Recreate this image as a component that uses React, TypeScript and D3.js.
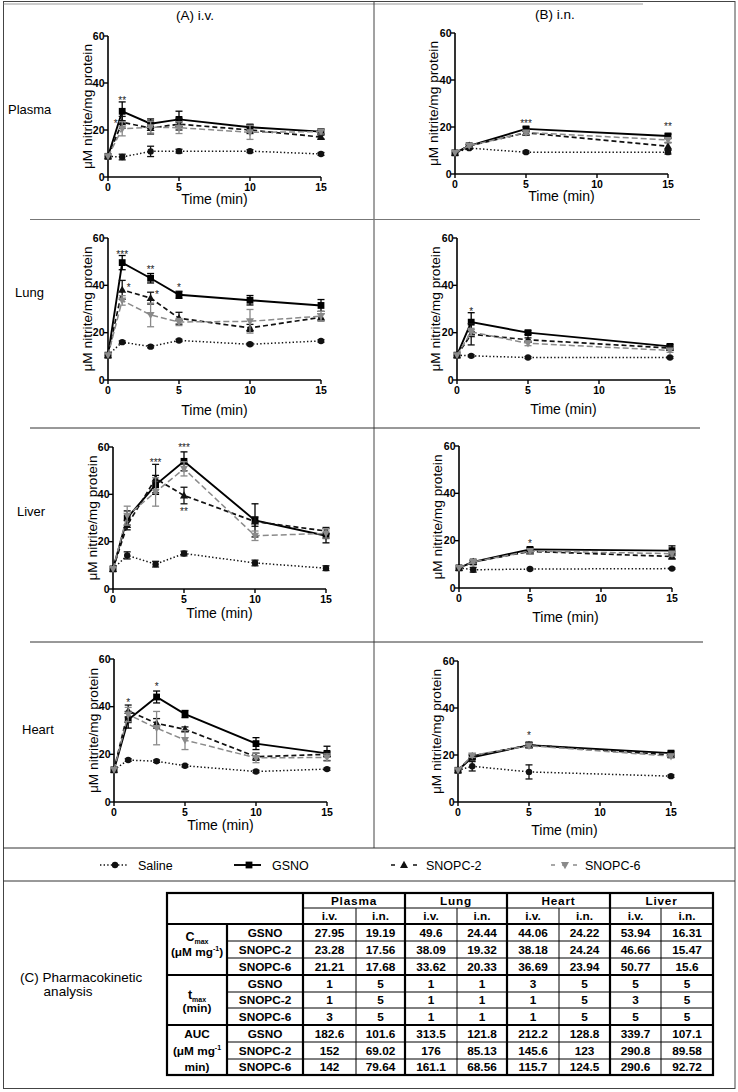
import React from 'react';
import * as d3 from 'd3';

// ---------- DATA ----------
const timesIV = [0, 1, 3, 5, 10, 15];
const timesIN = [0, 1, 5, 15];
const seriesNames = ['Saline', 'GSNO', 'SNOPC-2', 'SNOPC-6'];
const xTicks = [0, 5, 10, 15];
const yTicks = [0, 20, 40, 60];
const organs = ['Plasma', 'Lung', 'Liver', 'Heart'];

// order of series in each panel: Saline, GSNO, SNOPC-2, SNOPC-6
const plasmaIV = [
  [8.8, 8.5, 10.9, 11, 11, 9.8],
  [8.8, 27.95, 22.7, 24.5, 21.2, 19.3],
  [8.8, 23.28, 20.8, 22.5, 20, 17],
  [8.8, 20.5, 21.21, 21, 19, 19.3],
];
const plasmaIVErr = [
  [0, 1.2, 2.2, 0.8, 0.6, 0.6],
  [0, 4, 2, 3.5, 1.2, 1],
  [0, 2.5, 2.5, 2.5, 1.5, 0.8],
  [0, 3, 2.5, 2.5, 3, 1],
];
const plasmaIN = [
  [9, 11, 9.3, 9.3],
  [9, 12, 19.19, 16.2],
  [9, 12, 17.56, 11.8],
  [9, 12, 17.68, 14.5],
];
const plasmaINErr = [
  [0, 0.5, 0.5, 0.8],
  [0, 0.5, 0.8, 0.8],
  [0, 0.5, 0.8, 1.5],
  [0, 0.5, 0.8, 1],
];
const lungIV = [
  [10.5, 16, 14.1, 16.7, 15.1, 16.5],
  [10.5, 49.6, 43, 36, 33.7, 31.5],
  [10.5, 38.09, 34.6, 26.1, 22, 26.5],
  [10.5, 33.62, 27.5, 24.5, 24.8, 27],
];
const lungIVErr = [
  [0, 0.5, 0.5, 0.5, 0.5, 0.5],
  [0, 3, 2, 1.5, 2, 2.5],
  [0, 4, 2.5, 2.5, 1.5, 1.5],
  [0, 2, 5, 1.5, 5, 2],
];
const lungIN = [
  [10.5, 10.2, 9.5, 9.5],
  [10.5, 24.44, 20, 14.2],
  [10.5, 19.32, 17, 13.5],
  [10.5, 20.33, 15.5, 12.5],
];
const lungINErr = [
  [0, 0.4, 0.4, 0.4],
  [0, 4, 0.8, 0.8],
  [0, 4.5, 0.8, 0.8],
  [0, 1.5, 1, 0.8],
];
const liverIV = [
  [8.5, 14.2, 10.5, 15, 11, 8.8],
  [8.5, 30, 44, 53.94, 29, 22.5],
  [8.5, 27, 46.66, 39.5, 28.5, 24.5],
  [8.5, 31, 41, 50.77, 22.5, 23.5],
];
const liverIVErr = [
  [0, 1.5, 1.2, 1, 1.2, 1],
  [0, 3, 4, 4, 7, 3],
  [0, 2, 6, 3.5, 2, 1.5],
  [0, 4, 6, 3, 2, 2],
];
const liverIN = [
  [8.5, 7.7, 8, 8.2],
  [8.5, 11, 16.31, 15.8],
  [8.5, 11, 15.47, 13.3],
  [8.5, 11, 15.6, 14.5],
];
const liverINErr = [
  [0, 1, 0.3, 0.3],
  [0, 0.5, 0.8, 2],
  [0, 0.5, 0.8, 1],
  [0, 0.5, 0.8, 1],
];
const heartIV = [
  [13.5, 17.6, 17.1, 15.2, 12.8, 13.8],
  [13.5, 34.5, 44.06, 36.9, 24.5, 20.4],
  [13.5, 38.18, 33, 30.5, 19, 20],
  [13.5, 36.69, 31, 26, 18.5, 18.7],
];
const heartIVErr = [
  [0, 0.5, 0.5, 0.5, 0.5, 0.5],
  [0, 3.5, 2.5, 1.5, 2.5, 3],
  [0, 2.5, 2, 1, 1.5, 1],
  [0, 3, 7, 4, 2, 1.5],
];
const heartIN = [
  [13.5, 15.2, 12.8, 11],
  [13.5, 19, 24.22, 20.8],
  [13.5, 19.5, 24.24, 20],
  [13.5, 19.8, 23.94, 19.5],
];
const heartINErr = [
  [0, 2, 3, 0.5],
  [0, 0.8, 1.2, 0.8],
  [0, 0.8, 1, 0.8],
  [0, 0.8, 1, 0.8],
];

// significance marks: [time, value, label]
const plasmaIVStars: [number, number, string][] = [[0.55, 23.5, '*'], [1, 33.5, '**']];
const plasmaINStars: [number, number, string][] = [[5, 22.5, '***'], [15, 21, '**']];
const lungIVStars: [number, number, string][] = [[1, 54, '***'], [3, 47.5, '**'], [5, 40, '*'], [1.45, 40, '*'], [3.45, 37, '*']];
const lungINStars: [number, number, string][] = [[1, 30, '*']];
const liverIVStars: [number, number, string][] = [[3, 54.5, '***'], [5, 60.5, '***'], [5, 33.5, '**']];
const liverINStars: [number, number, string][] = [[5, 19.5, '*']];
const heartIVStars: [number, number, string][] = [[1, 42.5, '*'], [3, 49.5, '*']];
const heartINStars: [number, number, string][] = [[5, 29, '*']];

// table
const tableOrgans = ['Plasma', 'Lung', 'Heart', 'Liver'];
const tableRoutes = ['i.v.', 'i.n.'];
const tableSeries = ['GSNO', 'SNOPC-2', 'SNOPC-6'];
const cmaxRows = [
  [27.95, 19.19, 49.6, 24.44, 44.06, 24.22, 53.94, 16.31],
  [23.28, 17.56, 38.09, 19.32, 38.18, 24.24, 46.66, 15.47],
  [21.21, 17.68, 33.62, 20.33, 36.69, 23.94, 50.77, 15.6],
];
const tmaxRows = [
  [1, 5, 1, 1, 3, 5, 5, 5],
  [1, 5, 1, 1, 1, 5, 3, 5],
  [3, 5, 1, 1, 1, 5, 5, 5],
];
const aucRows = [
  [182.6, 101.6, 313.5, 121.8, 212.2, 128.8, 339.7, 107.1],
  [152, 69.02, 176, 85.13, 145.6, 123, 290.8, 89.58],
  [142, 79.64, 161.1, 68.56, 115.7, 124.5, 290.6, 92.72],
];

// ---------- STYLE / LAYOUT ----------
const FONT = "'Liberation Sans', Arial, sans-serif";
const GREY = '#8a8a8a';
const seriesStyle = [
  { stroke: '#111', width: 1.5, dash: '1.4 2.2', marker: 'circle', fill: '#111' },
  { stroke: '#000', width: 1.9, dash: '', marker: 'square', fill: '#000' },
  { stroke: '#111', width: 1.7, dash: '5 3', marker: 'tri', fill: '#111' },
  { stroke: GREY, width: 1.5, dash: '6 3', marker: 'tridown', fill: GREY },
];

const PW = 213;
const panels = [
  { times: timesIV, means: plasmaIV, errs: plasmaIVErr, stars: plasmaIVStars, x: 108, yTop: 36, yBot: 177, tOff: 22, yl: 21 },
  { times: timesIN, means: plasmaIN, errs: plasmaINErr, stars: plasmaINStars, x: 455, yTop: 33, yBot: 174, tOff: 22, yl: 22 },
  { times: timesIV, means: lungIV, errs: lungIVErr, stars: lungIVStars, x: 108, yTop: 238, yBot: 380, tOff: 30, yl: 21 },
  { times: timesIN, means: lungIN, errs: lungINErr, stars: lungINStars, x: 457, yTop: 238, yBot: 380, tOff: 29, yl: 22 },
  { times: timesIV, means: liverIV, errs: liverIVErr, stars: liverIVStars, x: 113, yTop: 447, yBot: 589, tOff: 24, yl: 21 },
  { times: timesIN, means: liverIN, errs: liverINErr, stars: liverINStars, x: 459, yTop: 446, yBot: 588, tOff: 29, yl: 22 },
  { times: timesIV, means: heartIV, errs: heartIVErr, stars: heartIVStars, x: 114, yTop: 659, yBot: 802, tOff: 23, yl: 21 },
  { times: timesIN, means: heartIN, errs: heartINErr, stars: heartINStars, x: 458, yTop: 661, yBot: 802, tOff: 28, yl: 22 },
];
const organLabelPos = [
  { x: 8, y: 114 },
  { x: 15, y: 297 },
  { x: 17, y: 516 },
  { x: 22, y: 734 },
];

function Marker({ type, x, y, fill }: { type: string; x: number; y: number; fill: string }) {
  if (type === 'circle') return <circle cx={x} cy={y} r={3.2} fill={fill} />;
  if (type === 'square') return <rect x={x - 3.4} y={y - 3.4} width={6.8} height={6.8} fill={fill} />;
  if (type === 'tri') return <path d={`M${x},${y - 4.2}L${x + 4},${y + 3}L${x - 4},${y + 3}Z`} fill={fill} />;
  return <path d={`M${x},${y + 4.2}L${x + 4},${y - 3}L${x - 4},${y - 3}Z`} fill={fill} />;
}

function Panel({ p }: { p: any }) {
  const xs = d3.scaleLinear().domain([0, 15]).range([p.x, p.x + PW]);
  const ys = d3.scaleLinear().domain([0, 60]).range([p.yBot, p.yTop]);
  const line = d3
    .line<number>()
    .x((_, i) => xs(p.times[i]))
    .y((d) => ys(d));
  const cy = (p.yTop + p.yBot) / 2;
  return (
    <g>
      {/* axes */}
      <line x1={p.x} x2={p.x} y1={p.yTop} y2={p.yBot} stroke="#000" strokeWidth={1.6} />
      <line x1={p.x} x2={p.x + PW} y1={p.yBot} y2={p.yBot} stroke="#000" strokeWidth={1.6} />
      {yTicks.map((t) => (
        <g key={'y' + t}>
          <line x1={p.x - 4} x2={p.x} y1={ys(t)} y2={ys(t)} stroke="#000" strokeWidth={1.4} />
          <text x={p.x - 3.5} y={ys(t) + 3.8} textAnchor="end" fontSize={10.5} fontWeight="bold" fontFamily={FONT}>
            {t}
          </text>
        </g>
      ))}
      {xTicks.map((t) => (
        <g key={'x' + t}>
          <line x1={xs(t)} x2={xs(t)} y1={p.yBot} y2={p.yBot + 4} stroke="#000" strokeWidth={1.4} />
          <text x={xs(t)} y={p.yBot + 13.5} textAnchor="middle" fontSize={10.5} fontWeight="bold" fontFamily={FONT}>
            {t}
          </text>
        </g>
      ))}
      <text x={p.x + PW / 2} y={p.yBot + p.tOff + 5} textAnchor="middle" fontSize={14} fontFamily={FONT}>
        Time (min)
      </text>
      <text
        transform={`translate(${p.x - p.yl},${cy}) rotate(-90)`}
        textAnchor="middle"
        dominantBaseline="central"
        fontSize={13.7}
        fontFamily={FONT}
      >
        μM nitrite/mg protein
      </text>
      {/* series */}
      {p.means.map((vals: number[], si: number) => {
        const st = seriesStyle[si];
        return (
          <g key={si}>
            <path
              d={line(vals) || ''}
              fill="none"
              stroke={st.stroke}
              strokeWidth={st.width}
              strokeDasharray={st.dash || undefined}
            />
            {vals.map((v, i) => {
              const e = p.errs[si][i];
              if (!e) return null;
              const x = xs(p.times[i]);
              return (
                <g key={'e' + i} stroke={st.stroke} strokeWidth={1.3}>
                  <line x1={x} x2={x} y1={ys(v - e)} y2={ys(v + e)} />
                  <line x1={x - 3.5} x2={x + 3.5} y1={ys(v - e)} y2={ys(v - e)} />
                  <line x1={x - 3.5} x2={x + 3.5} y1={ys(v + e)} y2={ys(v + e)} />
                </g>
              );
            })}
            {vals.map((v, i) => (
              <Marker key={'m' + i} type={st.marker} x={xs(p.times[i])} y={ys(v)} fill={st.fill} />
            ))}
          </g>
        );
      })}
      {p.stars.map((s: [number, number, string], i: number) => (
        <text
          key={'s' + i}
          x={xs(s[0])}
          y={ys(s[1]) + 5.5}
          textAnchor="middle"
          fontSize={10}
          fill="#222"
          fontFamily={FONT}
        >
          {s[2]}
        </text>
      ))}
    </g>
  );
}

function Legend() {
  const items = [
    { x1: 100, x2: 127, mx: 115, tx: 138 },
    { x1: 234, x2: 261, mx: 249, tx: 272 },
    { x1: 391, x2: 419, mx: 404, tx: 426 },
    { x1: 551, x2: 578, mx: 565, tx: 585 },
  ];
  const y = 865;
  return (
    <g>
      {seriesNames.map((n, i) => {
        const st = seriesStyle[i];
        const it = items[i];
        return (
          <g key={n}>
            <line
              x1={it.x1}
              x2={it.x2}
              y1={y}
              y2={y}
              stroke={st.stroke}
              strokeWidth={st.width}
              strokeDasharray={i === 2 || i === 3 ? '4 7' : st.dash || undefined}
            />
            <Marker type={st.marker} x={it.mx} y={y} fill={st.fill} />
            <text x={it.tx} y={y + 4.5} fontSize={12.5} fontFamily={FONT}>
              {n}
            </text>
          </g>
        );
      })}
    </g>
  );
}

function Table() {
  const colX = [167, 227, 303, 356, 405, 457, 507, 559, 610, 661, 713];
  const rowY = [893, 908, 924, 941, 958, 975, 992, 1008, 1025, 1042, 1059, 1075];
  const groups = [cmaxRows, tmaxRows, aucRows];
  const fs = 11.8;
  const cells: any[] = [];
  groups.forEach((g, gi) => {
    g.forEach((row, ri) => {
      const r = gi * 3 + ri;
      const yMid = (rowY[r + 2] + rowY[r + 3]) / 2;
      cells.push(
        <text key={'sn' + r} x={(colX[1] + colX[2]) / 2} y={yMid + 4} textAnchor="middle" fontSize={fs} fontWeight="bold" fontFamily={FONT}>
          {tableSeries[ri]}
        </text>
      );
      row.forEach((v, ci) => {
        cells.push(
          <text
            key={'c' + r + '-' + ci}
            x={(colX[ci + 2] + colX[ci + 3]) / 2}
            y={yMid + 4}
            textAnchor="middle"
            fontSize={fs}
            fontWeight="bold"
            fontFamily={FONT}
          >
            {String(v)}
          </text>
        );
      });
    });
  });
  const thin = 1;
  const thick = 2.2;
  const c0 = (colX[0] + colX[1]) / 2;
  return (
    <g>
      {/* thin horizontal lines */}
      {[3, 4, 6, 7, 9, 10].map((r) => (
        <line key={'h' + r} x1={colX[1]} x2={colX[10]} y1={rowY[r]} y2={rowY[r]} stroke="#000" strokeWidth={thin} />
      ))}
      <line x1={colX[2]} x2={colX[10]} y1={rowY[1]} y2={rowY[1]} stroke="#000" strokeWidth={thin} />
      {[3, 5, 7, 9].map((c) => (
        <line key={'vt' + c} x1={colX[c]} x2={colX[c]} y1={rowY[1]} y2={rowY[11]} stroke="#000" strokeWidth={thin} />
      ))}
      {/* thick lines */}
      {[2, 5, 8].map((r) => (
        <line key={'H' + r} x1={colX[0]} x2={colX[10]} y1={rowY[r]} y2={rowY[r]} stroke="#000" strokeWidth={thick} />
      ))}
      {[2, 4, 6, 8].map((c) => (
        <line key={'V' + c} x1={colX[c]} x2={colX[c]} y1={rowY[0]} y2={rowY[11]} stroke="#000" strokeWidth={thick} />
      ))}
      <line x1={colX[1]} x2={colX[1]} y1={rowY[2]} y2={rowY[11]} stroke="#000" strokeWidth={thick} />
      <rect x={colX[0]} y={rowY[0]} width={colX[10] - colX[0]} height={rowY[11] - rowY[0]} fill="none" stroke="#000" strokeWidth={thick} />
      {/* headers */}
      {tableOrgans.map((o, i) => (
        <text
          key={o}
          x={(colX[2 + i * 2] + colX[4 + i * 2]) / 2}
          y={(rowY[0] + rowY[1]) / 2 + 4}
          textAnchor="middle"
          fontSize={fs}
          fontWeight="bold"
          letterSpacing={0.8}
          fontFamily={FONT}
        >
          {o}
        </text>
      ))}
      {tableOrgans.map((o, i) =>
        tableRoutes.map((rt, j) => (
          <text
            key={o + rt}
            x={(colX[2 + i * 2 + j] + colX[3 + i * 2 + j]) / 2}
            y={(rowY[1] + rowY[2]) / 2 + 4}
            textAnchor="middle"
            fontSize={fs}
            fontWeight="bold"
            fontFamily={FONT}
          >
            {rt}
          </text>
        ))
      )}
      {/* group labels */}
      <text x={c0} y={941} textAnchor="middle" fontSize={12.5} fontWeight="bold" fontFamily={FONT}>
        C<tspan fontSize={7} dy={3}>max</tspan>
      </text>
      <text x={c0} y={956} textAnchor="middle" fontSize={11.8} fontWeight="bold" fontFamily={FONT}>
        (μM mg<tspan fontSize={7} dy={-5}>-1</tspan>
        <tspan dy={5}>)</tspan>
      </text>
      <text x={c0} y={999} textAnchor="middle" fontSize={12.5} fontWeight="bold" fontFamily={FONT}>
        t<tspan fontSize={7} dy={3}>max</tspan>
      </text>
      <text x={c0} y={1012} textAnchor="middle" fontSize={11.8} fontWeight="bold" fontFamily={FONT}>
        (min)
      </text>
      <text x={c0} y={1038} textAnchor="middle" fontSize={11.8} fontWeight="bold" fontFamily={FONT}>
        AUC
      </text>
      <text x={c0} y={1055} textAnchor="middle" fontSize={11.8} fontWeight="bold" fontFamily={FONT}>
        (μM mg<tspan fontSize={7} dy={-5}>-1</tspan>
      </text>
      <text x={c0} y={1071} textAnchor="middle" fontSize={11.8} fontWeight="bold" fontFamily={FONT}>
        min)
      </text>
      {cells}
    </g>
  );
}

export default function App() {
  return (
    <svg
      width={738}
      height={1092}
      style={{ position: 'absolute', left: 0, top: 0, background: '#fff' }}
      fontFamily={FONT}
    >
      <rect x={0} y={0} width={738} height={1092} fill="#fff" />
      {/* frame */}
      <rect x={3.5} y={1.5} width={731.5} height={1087} fill="none" stroke="#444" strokeWidth={1} />
      <line x1={3.5} x2={643} y1={4} y2={4} stroke="#999" strokeWidth={1} />
      <line x1={374} x2={374} y1={1.5} y2={848} stroke="#444" strokeWidth={1} />
      <line x1={30} x2={700} y1={219.5} y2={219.5} stroke="#777" strokeWidth={1} />
      <line x1={30} x2={700} y1={428} y2={428} stroke="#333" strokeWidth={1} />
      <line x1={30} x2={703} y1={642} y2={642} stroke="#333" strokeWidth={1} />
      <line x1={3.5} x2={735} y1={848} y2={848} stroke="#333" strokeWidth={1} />
      <line x1={3.5} x2={735} y1={881} y2={881} stroke="#333" strokeWidth={1} />

      <text x={195} y={20} textAnchor="middle" fontSize={13.5}>(A) i.v.</text>
      <text x={555} y={19} textAnchor="middle" fontSize={13.5}>(B) i.n.</text>
      {organs.map((o, i) => (
        <text key={o} x={organLabelPos[i].x} y={organLabelPos[i].y} fontSize={13}>
          {o}
        </text>
      ))}
      {panels.map((p, i) => (
        <Panel key={i} p={p} />
      ))}
      <Legend />
      <Table />
      <text x={20} y={982} fontSize={13.5}>(C) Pharmacokinetic</text>
      <text x={68} y={996} textAnchor="middle" fontSize={13.5}>analysis</text>
    </svg>
  );
}
